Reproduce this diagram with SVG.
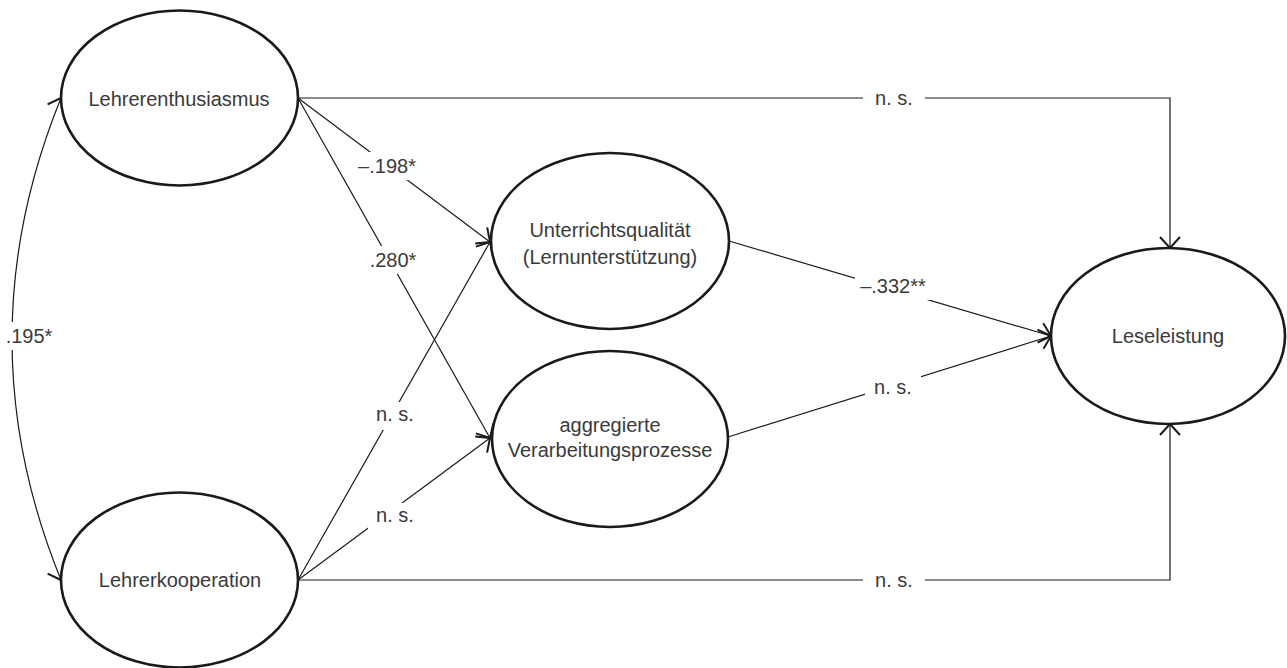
<svg xmlns="http://www.w3.org/2000/svg" width="1287" height="668" viewBox="0 0 1287 668">
<defs>
<marker id="arr" markerUnits="userSpaceOnUse" markerWidth="26" markerHeight="26" viewBox="-13 -13 26 26" refX="0" refY="0" orient="auto-start-reverse" overflow="visible">
<path d="M-11,-10 L0,0 L-11,10" fill="none" stroke="#1a1a1a" stroke-width="2"/>
</marker>
<style>
.node ellipse{fill:#fff;stroke:#1a1a1a;stroke-width:2.6}
text{font-family:"Liberation Sans",Arial,sans-serif;font-size:20px;fill:#3a3a3a;text-anchor:middle}
.edges path{fill:none;stroke:#1a1a1a;stroke-width:1.2}
.lbl rect{fill:#fff;stroke:none}
</style>
</defs>
<g class="edges" id="connectors">
<path d="M298,98 H1170 V248" marker-end="url(#arr)"/>
<path d="M298,580 H1170 V424" marker-end="url(#arr)"/>
<path d="M298,98 L490,242" marker-end="url(#arr)"/>
<path d="M298,98 L490,438" marker-end="url(#arr)"/>
<path d="M298,580 L490,242" marker-end="url(#arr)"/>
<path d="M298,580 L490,438" marker-end="url(#arr)"/>
<path d="M729,241 L1051,336" marker-end="url(#arr)"/>
<path d="M728,437 L1051,336" marker-end="url(#arr)"/>
<path d="M61,98 Q-37,339 61,580" marker-start="url(#arr)" marker-end="url(#arr)"/>
<g class="lbl">
<rect x="863" y="88" width="62" height="22"/><text x="894" y="105">n. s.</text>
<rect x="863" y="570" width="62" height="22"/><text x="894" y="587">n. s.</text>
<rect x="356" y="152" width="62" height="28"/><text x="387" y="173">–.198*</text>
<rect x="365" y="246" width="56" height="28"/><text x="393" y="267">.280*</text>
<rect x="368" y="402" width="56" height="28"/><text x="395" y="421">n. s.</text>
<rect x="368" y="503" width="56" height="28"/><text x="395" y="522">n. s.</text>
<rect x="2" y="322" width="54" height="28"/><text x="29" y="343">.195*</text>
<rect x="855" y="274" width="76" height="26"/><text x="893" y="293">–.332**</text>
<rect x="865" y="376" width="56" height="24"/><text x="893" y="394">n. s.</text>
</g>
</g>
<g class="node" id="lehrerenthusiasmus"><ellipse cx="179.5" cy="98" rx="118.5" ry="87.5"/><text x="179" y="106">Lehrerenthusiasmus</text></g>
<g class="node" id="lehrerkooperation"><ellipse cx="179.5" cy="580" rx="118.5" ry="87.5"/><text x="180" y="587">Lehrerkooperation</text></g>
<g class="node" id="unterrichtsqualitaet"><ellipse cx="610" cy="241" rx="119" ry="88"/><text x="610" y="237">Unterrichtsqualität</text><text x="610" y="264">(Lernunterstützung)</text></g>
<g class="node" id="verarbeitung"><ellipse cx="610" cy="439" rx="118" ry="88"/><text x="610" y="432">aggregierte</text><text x="610" y="457">Verarbeitungsprozesse</text></g>
<g class="node" id="leseleistung"><ellipse cx="1168" cy="336" rx="117" ry="88"/><text x="1168" y="343">Leseleistung</text></g>
</svg>
